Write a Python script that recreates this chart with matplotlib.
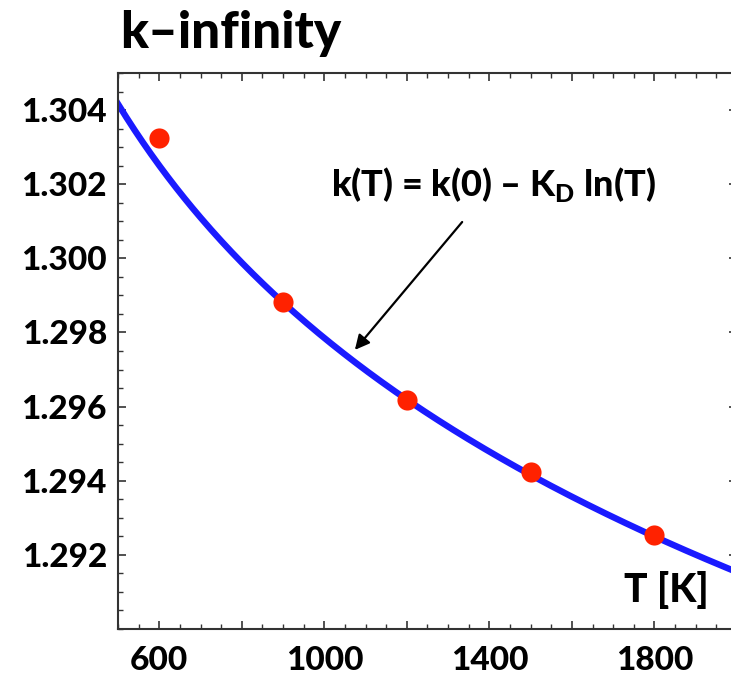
import numpy as np
import matplotlib.pyplot as plt
from matplotlib.ticker import MultipleLocator

# measured k-infinity values
T = [600, 900, 1200, 1500, 1800]
k_inf = [1.30325, 1.29882, 1.29619, 1.29424, 1.29254]

# fitted model k(T) = k(0) - K_D ln(T)
k0 = 1.36078
KD = 0.00911

x_ticks = [600, 1000, 1400, 1800]
y_ticks = [1.292, 1.294, 1.296, 1.298, 1.300, 1.302, 1.304]

plt.rcParams['font.family'] = ['Lato', 'DejaVu Sans']
plt.rcParams['font.weight'] = 'black'
plt.rcParams['mathtext.fontset'] = 'custom'
plt.rcParams['mathtext.rm'] = 'Lato:black'
plt.rcParams['mathtext.bf'] = 'Lato:black'

fig = plt.figure(figsize=(7.31, 6.77), dpi=100)
W, H = 731, 677
ax = fig.add_axes([118 / W, 1 - 629 / H, (737 - 118) / W, (629 - 73) / H])

tt = np.linspace(500, 2000, 300)
ax.plot(tt, k0 - KD * np.log(tt), color='#1a1aff', lw=4.6, zorder=2)
ax.plot(T, k_inf, 'o', color='#ff2200', ms=14.5, mec='none', zorder=3)

ax.set_xlim(500, 2000)
ax.set_ylim(1.290, 1.305)

ax.xaxis.set_minor_locator(MultipleLocator(50))
ax.yaxis.set_minor_locator(MultipleLocator(0.0005))
ax.set_xticks(range(600, 2001, 200))
ax.set_xticklabels([str(v) if v in x_ticks else '' for v in range(600, 2001, 200)])
ax.set_yticks(y_ticks)
ax.set_yticklabels([f'{v:.3f}' for v in y_ticks])

ax.tick_params(which='both', direction='in', top=True, right=True, color='#333333')
ax.tick_params(which='major', length=6, width=1.2, labelsize=24)
ax.tick_params(axis='x', which='major', pad=12)
ax.tick_params(axis='y', which='major', pad=8)
ax.tick_params(which='minor', length=3.5, width=1)
for s in ax.spines.values():
    s.set_color('#333333')
    s.set_linewidth(1.5)

ax.annotate('', xy=(1074, 1.29753), xytext=(1334, 1.30098),
            arrowprops=dict(arrowstyle='-|>', color='black', lw=1.6,
                            mutation_scale=22, shrinkA=0, shrinkB=0))
ax.text(1411, 1.30198, 'k(T) = k(0) \u2013 K$_\\mathrm{D}$ ln(T)', fontsize=26,
        ha='center', va='center', fontweight='black')
ax.text(1828, 1.29106, 'T [K]', fontsize=28, ha='center', va='center',
        fontweight='black')

fig.text(120 / W, 1 - 48 / H, 'k\u2013infinity', fontsize=37, fontweight='black',
         ha='left', va='baseline')

fig.savefig('out.png', dpi=100)
